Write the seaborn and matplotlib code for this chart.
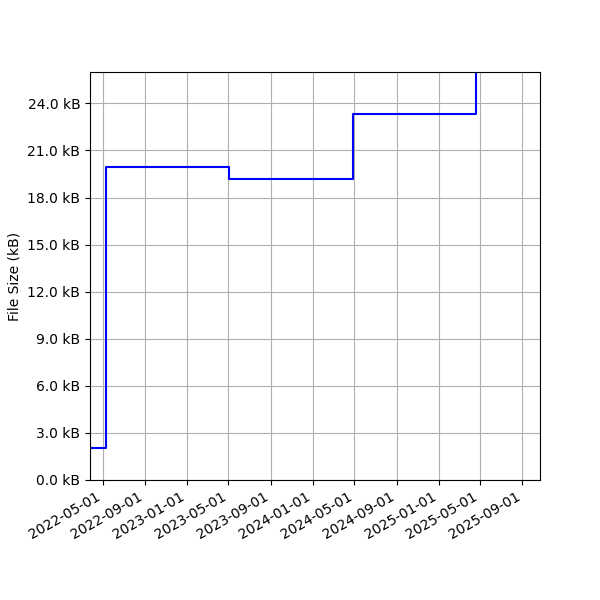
import matplotlib
matplotlib.use("Agg")
import matplotlib.pyplot as plt
import matplotlib.dates as mdates
import matplotlib.ticker as mticker
import seaborn as sns
import pandas as pd

# Data
dates = ["2022-03-01", "2022-05-10", "2023-05-03", "2024-04-27", "2025-04-19"]
sizes_kb = [2.06, 19.93, 19.19, 23.30, 28.0]

x_limits = ["2022-03-25", "2025-10-22"]
y_limits = [0.0, 26.0]

df = pd.DataFrame({"date": pd.to_datetime(dates), "size": sizes_kb})

fig, ax = plt.subplots(figsize=(6, 6), dpi=100)
sns.lineplot(data=df, x="date", y="size", ax=ax, color="blue",
             drawstyle="steps-post", linewidth=1.5)

ax.set_xlim(pd.to_datetime(x_limits[0]), pd.to_datetime(x_limits[1]))
ax.set_ylim(*y_limits)
ax.yaxis.set_major_locator(mticker.MultipleLocator(3))
ax.yaxis.set_major_formatter(mticker.FuncFormatter(lambda v, p: f"{v:.1f} kB"))
ax.xaxis.set_major_locator(mdates.MonthLocator(bymonth=[1, 5, 9]))
ax.xaxis.set_major_formatter(mdates.DateFormatter("%Y-%m-%d"))
ax.grid(True)
ax.set_xlabel("")
ax.set_ylabel("File Size (kB)")
fig.autofmt_xdate()
fig.subplots_adjust(left=0.15, right=0.9, top=0.88, bottom=0.2)

fig.savefig("out.png", dpi=100)
